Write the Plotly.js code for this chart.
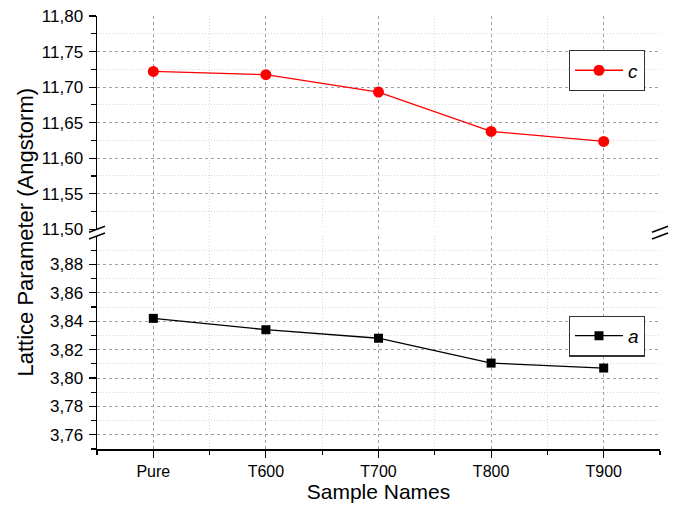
<!DOCTYPE html>
<html>
<head>
<meta charset="utf-8">
<script src="https://cdn.plot.ly/plotly-3.0.1.min.js"></script>
<style>html,body{margin:0;padding:0;background:#fff;}#chart{width:676px;height:505px;}</style>
</head>
<body>
<div id="chart"></div>
<script>
// Data
const categories = ["Pure", "T600", "T700", "T800", "T900"];
const cValues = [11.722, 11.7175, 11.693, 11.6377, 11.6236];
const aValues = [3.842, 3.834, 3.828, 3.8105, 3.807];
const upperTicks = [11.50, 11.55, 11.60, 11.65, 11.70, 11.75, 11.80];
const lowerTicks = [3.76, 3.78, 3.80, 3.82, 3.84, 3.86, 3.88];

const xIdx = categories.map((_, i) => i);

const W = 676, H = 505;
const M = {l: 97, r: 16, t: 16, b: 56};
const plotH = H - M.t - M.b;
const upperBottomPx = 229.3, lowerTopPx = 236;
const yUpperDom0 = (H - M.b - upperBottomPx) / plotH;
const yLowerDom1 = (H - M.b - lowerTopPx) / plotH;

const font = {family: "Liberation Sans, Arial, sans-serif", color: "#000"};
const majorGrid = "#a0a0a0", minorGrid = "#d6d6d6";
const majorDash = "3px,3px", minorDash = "1px,2px";

const traces = [
  {x: xIdx, y: cValues, name: "c", xaxis: "x", yaxis: "y2", mode: "lines+markers",
   line: {color: "#ff0000", width: 1.3}, marker: {symbol: "circle", size: 11, color: "#ff0000"},
   legend: "legend"},
  {x: xIdx, y: aValues, name: "a", xaxis: "x", yaxis: "y", mode: "lines+markers",
   line: {color: "#000000", width: 1.3}, marker: {symbol: "square", size: 9, color: "#000000"},
   legend: "legend2"}
];

const baseY = {
  showline: true, linecolor: "#000", linewidth: 1.5, zeroline: false,
  ticks: "outside", ticklen: 7, tickwidth: 1.2, tickcolor: "#000",
  tickfont: {...font, size: 17}, tickformat: ".2f", ticklabelstandoff: 2,
  showgrid: true, gridcolor: majorGrid, griddash: majorDash, gridwidth: 1
};

const layout = {
  width: W, height: H, margin: M,
  paper_bgcolor: "#fff", plot_bgcolor: "#fff",
  separators: ",.",
  font: font,
  showlegend: true,
  xaxis: {
    anchor: "y", domain: [0, 1], range: [-0.5, 4.5],
    tickmode: "array", tickvals: xIdx, ticktext: categories,
    showline: true, linecolor: "#000", linewidth: 1.5, zeroline: false,
    ticks: "outside", ticklen: 7, tickwidth: 1.2, tickcolor: "#000",
    tickfont: {...font, size: 16}, ticklabelstandoff: 0,
    showgrid: true, gridcolor: majorGrid, griddash: majorDash,
    minor: {tickmode: "linear", tick0: 0.5, dtick: 1, ticks: "outside", ticklen: 4, tickcolor: "#000",
            showgrid: true, gridcolor: minorGrid, griddash: minorDash},
    title: {text: "Sample Names", font: {...font, size: 21}, standoff: 4}
  },
  xaxis2: {
    overlaying: "x", anchor: "y2", side: "top", range: [-0.5, 4.5],
    tickmode: "array", tickvals: xIdx, showticklabels: false,
    showline: true, linecolor: "#000", linewidth: 1.5, zeroline: false, showgrid: false,
    ticks: "inside", ticklen: 6, tickwidth: 1.2, tickcolor: "#000",
    minor: {tickmode: "linear", tick0: 0.5, dtick: 1, ticks: "inside", ticklen: 4, tickcolor: "#000", showgrid: false}
  },
  yaxis: {
    ...baseY, anchor: "x", domain: [0, yLowerDom1], range: [3.75, 3.90],
    tickmode: "array", tickvals: lowerTicks,
    minor: {tickmode: "linear", tick0: 3.77, dtick: 0.02, ticks: "outside", ticklen: 5, tickcolor: "#000",
            showgrid: true, gridcolor: minorGrid, griddash: minorDash}
  },
  yaxis2: {
    ...baseY, anchor: "x", domain: [yUpperDom0, 1], range: [11.50, 11.80],
    tickmode: "array", tickvals: upperTicks,
    minor: {tickmode: "linear", tick0: 11.525, dtick: 0.05, ticks: "outside", ticklen: 5, tickcolor: "#000",
            showgrid: true, gridcolor: minorGrid, griddash: minorDash}
  },
  yaxis3: {
    overlaying: "y", anchor: "x", side: "right", range: [3.75, 3.90],
    showline: true, linecolor: "#000", linewidth: 1.5, zeroline: false, showgrid: false, showticklabels: false,
    tickmode: "array", tickvals: lowerTicks,
    ticks: "inside", ticklen: 6, tickwidth: 1.2, tickcolor: "#000",
    minor: {tickmode: "linear", tick0: 3.77, dtick: 0.02, ticks: "inside", ticklen: 4, tickcolor: "#000", showgrid: false}
  },
  yaxis4: {
    overlaying: "y2", anchor: "x", side: "right", range: [11.50, 11.80],
    showline: true, linecolor: "#000", linewidth: 1.5, zeroline: false, showgrid: false, showticklabels: false,
    tickmode: "array", tickvals: upperTicks,
    ticks: "inside", ticklen: 6, tickwidth: 1.2, tickcolor: "#000",
    minor: {tickmode: "linear", tick0: 11.525, dtick: 0.05, ticks: "inside", ticklen: 4, tickcolor: "#000", showgrid: false}
  },
  legend: {
    x: 0.838, y: 0.921, xanchor: "left", yanchor: "top",
    bgcolor: "#fff", bordercolor: "#333", borderwidth: 1.2,
    font: {...font, size: 19, style: "italic"}, itemwidth: 48, tracegroupgap: 0
  },
  legend2: {
    x: 0.838, y: 0.308, xanchor: "left", yanchor: "top",
    bgcolor: "#fff", bordercolor: "#333", borderwidth: 1.2,
    font: {...font, size: 19, style: "italic"}, itemwidth: 48, tracegroupgap: 0
  },
  annotations: [{
    text: "Lattice Parameter (Angstorm)", textangle: -90,
    xref: "paper", yref: "paper", x: 0, y: 0.5, xanchor: "center", yanchor: "middle",
    xshift: -72, showarrow: false, font: {...font, size: 22}
  }],
  shapes: []
};

// axis break marks
[[0, upperBottomPx], [0, lowerTopPx], [1, upperBottomPx], [1, lowerTopPx]].forEach(([xp, ypx]) => {
  const yp = (H - M.b - ypx) / plotH;
  layout.shapes.push({
    type: "line", xref: "paper", yref: "paper",
    xsizemode: "pixel", xanchor: xp, x0: -8, x1: 8,
    ysizemode: "pixel", yanchor: yp, y0: -3, y1: 3,
    line: {color: "#000", width: 1.5}
  });
});

Plotly.newPlot("chart", traces, layout, {displayModeBar: false, staticPlot: true});
</script>
</body>
</html>
